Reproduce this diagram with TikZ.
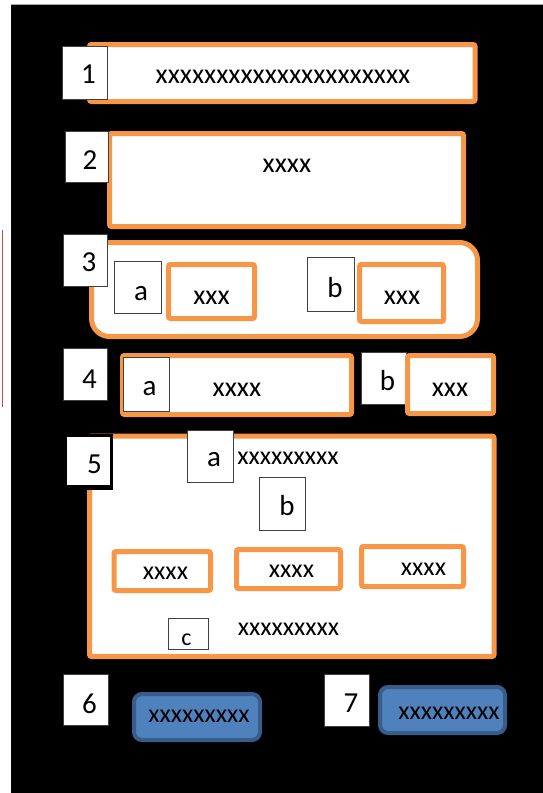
\documentclass[tikz,border=0pt]{standalone}
\usepackage{fontspec}
\setmainfont{Carlito}
\definecolor{orng}{HTML}{F79646}
\definecolor{bfill}{HTML}{4F81BD}
\definecolor{bdraw}{HTML}{385D8A}
\definecolor{lblline}{HTML}{404040}
\definecolor{redline}{HTML}{C0504D}
\tikzset{
  obox/.style={draw=orng, line width=5pt, fill=white, rounded corners=2pt, inner sep=0pt},
  lbl/.style={draw=lblline, line width=0.9pt, fill=white, inner sep=0pt},
  bluebox/.style={draw=bdraw, line width=4pt, fill=bfill, rounded corners=8pt, inner sep=0pt},
  txt/.style={inner sep=0pt, font=\fontsize{26}{30}\selectfont},
  btxt/.style={inner sep=0pt, font=\fontsize{28}{32}\selectfont},
  ltxt/.style={inner sep=0pt, font=\fontsize{29}{33}\selectfont},
}
\begin{document}
\begin{tikzpicture}[x=1pt,y=-1pt]
\useasboundingbox (0,0) rectangle (543,793);
% background
\fill[white] (0,0) rectangle (543,793);
\fill[black] (10.5,4.5) rectangle (543,793);
\draw[gray!70, line width=0.8pt] (10.5,4.2) -- (543,4.2);
\draw[redline, line width=1.8pt] (2.5,230) -- (2.5,407);

% row 1
\node[obox, minimum width=385.5pt, minimum height=57pt] (b1) at (282.25,73) {};
\node[btxt] (t1) at (283,77) {xxxxxxxxxxxxxxxxxxxxx};
\node[lbl, minimum width=45pt, minimum height=53pt] (l1) at (84.5,72.5) {};
\node[ltxt] (n1) at (88.5,74.5) {1};

% row 2
\node[obox, minimum width=354pt, minimum height=93pt] (b2) at (286.5,180) {};
\node[btxt] (t2) at (287,166) {xxxx};
\node[lbl, minimum width=43pt, minimum height=51pt] (l2) at (86.5,156.5) {};
\node[ltxt] (n2) at (90,160) {2};

% row 3
\node[obox, rounded corners=18pt, minimum width=386pt, minimum height=94pt] (b3) at (284.5,289.5) {};
\node[lbl, minimum width=44pt, minimum height=52pt] (l3) at (85,260) {};
\node[ltxt] (n3) at (89,262.5) {3};
\node[lbl, minimum width=47pt, minimum height=52pt] (l3a) at (137.5,287) {};
\node[ltxt] (a3) at (141,294) {a};
\node[obox, minimum width=86pt, minimum height=54pt] (o3a) at (211.5,291.5) {};
\node[btxt] (t3a) at (211.5,297.5) {xxx};
\node[lbl, minimum width=47pt, minimum height=54pt] (l3b) at (330.5,284) {};
\node[ltxt] (b3t) at (335,288) {b};
\node[obox, minimum width=84pt, minimum height=57pt] (o3b) at (401.5,293) {};
\node[btxt] (t3b) at (402,298) {xxx};

% row 4
\node[lbl, minimum width=44pt, minimum height=52pt] (l4) at (85,374) {};
\node[ltxt] (n4) at (89.5,379) {4};
\node[obox, minimum width=229pt, minimum height=59pt] (o4a) at (237,385) {};
\node[lbl, minimum width=46pt, minimum height=54pt] (l4a) at (146,384) {};
\node[ltxt] (a4) at (149.5,388.5) {a};
\node[btxt] (t4a) at (237,390) {xxxx};
\node[lbl, minimum width=45pt, minimum height=52pt] (l4b) at (383.5,378) {};
\node[ltxt] (b4t) at (387.5,380.5) {b};
\node[obox, minimum width=86pt, minimum height=58pt] (o4b) at (450.5,384.5) {};
\node[btxt] (t4b) at (450,390) {xxx};

% row 5
\node[obox, minimum width=404.5pt, minimum height=220.5pt] (b5) at (291.75,546.25) {};
\node[fill=black, inner sep=0pt, minimum width=49pt, minimum height=56pt] (l5bg) at (88.5,462) {};
\node[fill=white, inner sep=0pt, minimum width=43pt, minimum height=48pt] (l5) at (88.5,461) {};
\node[ltxt] (n5) at (94.5,464.5) {5};
\node[lbl, minimum width=46pt, minimum height=52pt] (l5a) at (210,456) {};
\node[ltxt] (a5) at (214,460) {a};
\node[txt] (t5a) at (288,458.5) {xxxxxxxxx};
\node[lbl, minimum width=46pt, minimum height=53pt] (l5b) at (282,503.5) {};
\node[ltxt] (b5t) at (287,506) {b};
\node[obox, minimum width=96.5pt, minimum height=39pt] (oA) at (162.25,571) {};
\node[txt] (tA) at (165.5,573.5) {xxxx};
\node[obox, minimum width=104pt, minimum height=39pt] (oB) at (288.5,569) {};
\node[txt] (tB) at (291.5,571) {xxxx};
\node[obox, minimum width=102pt, minimum height=40pt] (oC) at (412.5,566.5) {};
\node[txt] (tC) at (423.5,569) {xxxx};
\node[lbl, minimum width=40pt, minimum height=31pt] (l5c) at (188,633.5) {};
\node[inner sep=0pt, font=\fontsize{24}{28}\selectfont] (c5) at (186.5,639.5) {c};
\node[txt] (t5c) at (288.5,629.5) {xxxxxxxxx};

% row 6/7
\node[lbl, minimum width=45pt, minimum height=51pt] (l6) at (85.5,699.5) {};
\node[ltxt] (n6) at (89.5,703.5) {6};
\node[bluebox, minimum width=126pt, minimum height=46pt] (bl6) at (197,717) {};
\node[txt] (t6) at (199,716) {xxxxxxxxx};
\node[lbl, minimum width=45pt, minimum height=52pt] (l7) at (346.5,700) {};
\node[ltxt] (n7) at (351,703.5) {7};
\node[bluebox, minimum width=125pt, minimum height=46pt] (bl7) at (442.5,710) {};
\node[txt] (t7) at (449,713.5) {xxxxxxxxx};
\end{tikzpicture}
\end{document}
